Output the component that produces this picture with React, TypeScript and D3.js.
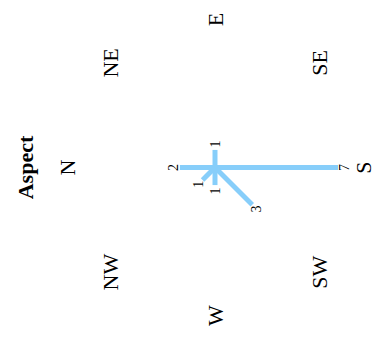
import React from "react";
import * as d3 from "d3";

const directions = ["N", "NE", "E", "SE", "S", "SW", "W", "NW"];
const counts = [2, 0, 1, 0, 7, 3, 1, 1];
const title = "Aspect";

const width = 377;
const height = 339;

function App() {
  const cx = 215;
  const cy = 167.5;

  const rScale = d3.scaleLinear().domain([0, 7]).range([0, 123]);
  const angle = d3
    .scalePoint<string>()
    .domain(directions)
    .range([0, 2 * Math.PI * (7 / 8)]);

  // polar -> cartesian, north up, clockwise
  const pos = (a: number, r: number): [number, number] => [
    r * Math.sin(a),
    -r * Math.cos(a),
  ];

  const labelR = 148;

  return (
    <svg
      width={width}
      height={height}
      style={{ position: "absolute", left: 0, top: 0, display: "block" }}
      fontFamily="'Liberation Serif', 'DejaVu Serif', serif"
    >
      {/* the whole chart is turned a quarter turn, north pointing left */}
      <g transform={`translate(${cx},${cy}) rotate(-90)`}>
        <text
          x={0}
          y={-190}
          textAnchor="middle"
          dominantBaseline="central"
          fontWeight="bold"
          fontSize={22}
        >
          {title}
        </text>
        {directions.map((d) => {
          const [x, y] = pos(angle(d)!, labelR);
          return (
            <text
              key={d}
              x={x}
              y={y}
              textAnchor="middle"
              dominantBaseline="central"
              fontSize={22}
            >
              {d}
            </text>
          );
        })}
        {directions.map((d, i) => {
          if (counts[i] === 0) return null;
          const [x, y] = pos(angle(d)!, rScale(counts[i]));
          return (
            <line
              key={d}
              x1={0}
              y1={0}
              x2={x}
              y2={y}
              stroke="#87CEFA"
              strokeWidth={5}
            />
          );
        })}
        {directions.map((d, i) => {
          if (counts[i] === 0) return null;
          const [x, y] = pos(angle(d)!, rScale(counts[i]) + 6);
          return (
            <text
              key={d}
              x={x}
              y={y}
              textAnchor="middle"
              dominantBaseline="central"
              fontSize={14}
            >
              {counts[i]}
            </text>
          );
        })}
      </g>
    </svg>
  );
}

export default App;
